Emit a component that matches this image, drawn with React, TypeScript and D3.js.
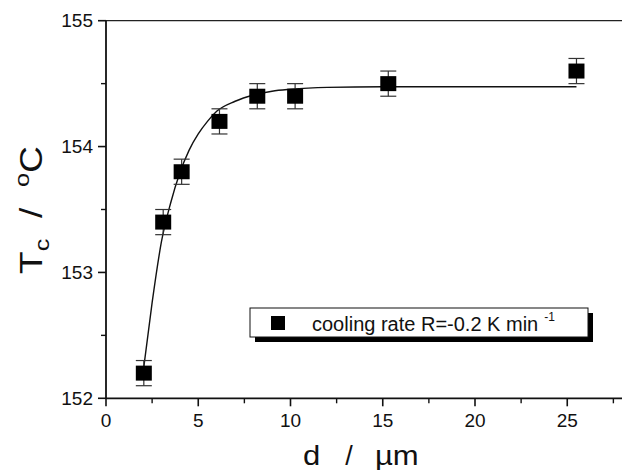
import React, { useEffect } from "react";
import * as d3 from "d3";

const dValues = [2.05, 3.1, 4.1, 6.15, 8.2, 10.25, 15.3, 25.5];
const tcValues = [152.2, 153.4, 153.8, 154.2, 154.4, 154.4, 154.5, 154.6];
const tcErrors = [0.1, 0.1, 0.1, 0.1, 0.1, 0.1, 0.1, 0.1];

const fitX = [2.05, 2.5, 3.0, 3.5, 4.0, 4.5, 5.0, 5.5, 6.0, 7.0, 8.0, 9.0, 10.0, 12.0, 15.0, 20.0, 25.5];
const fitY = [152.25, 152.76, 153.24, 153.55, 153.79, 153.97, 154.1, 154.2, 154.28, 154.36, 154.41, 154.44, 154.455, 154.47, 154.475, 154.475, 154.475];

const xTicks = [0, 5, 10, 15, 20, 25];
const xMinorTicks = [2.5, 7.5, 12.5, 17.5, 22.5, 27.5];
const yTicks = [152, 153, 154, 155];
const yMinorTicks = [152.5, 153.5, 154.5];

const legendLabel = "cooling rate R=-0.2 K min";
const legendSup = "-1";

const W = 622;
const H = 470;
const FONT = "'Liberation Sans', Arial, sans-serif";

export default function App() {
  useEffect(() => {
    document.body.style.margin = "0";
  }, []);

  const x = d3.scaleLinear().domain([0, 28]).range([106, 106 + 28 * 18.45]);
  const y = d3.scaleLinear().domain([152, 155]).range([398.3, 20.7]);

  const line = d3
    .line<number>()
    .x((_, i) => x(fitX[i]))
    .y((v) => y(v))
    .curve(d3.curveMonotoneX);

  const x0 = x(0);
  const y0 = y(152);
  const yTop = y(155);

  return (
    <svg width={W} height={H} style={{ display: "block", background: "#fff" }} fontFamily={FONT}>
      {/* frame */}
      <line x1={x0} x2={W} y1={yTop} y2={yTop} stroke="#222" strokeWidth={1.2} />
      <line x1={x0} x2={W} y1={y0} y2={y0} stroke="#111" strokeWidth={1.8} />
      <line x1={x0} x2={x0} y1={yTop} y2={y0} stroke="#111" strokeWidth={1.8} />

      {/* x ticks */}
      {xTicks.map((t) => (
        <g key={"xt" + t}>
          <line x1={x(t)} x2={x(t)} y1={y0} y2={y0 + 8} stroke="#111" strokeWidth={1.6} />
          <text x={x(t)} y={427} textAnchor="middle" fontSize={19} fill="#111">
            {t}
          </text>
        </g>
      ))}
      {xMinorTicks.map((t) => (
        <line key={"xm" + t} x1={x(t)} x2={x(t)} y1={y0} y2={y0 + 5} stroke="#111" strokeWidth={1.4} />
      ))}

      {/* y ticks */}
      {yTicks.map((t) => (
        <g key={"yt" + t}>
          <line x1={x0 - 8} x2={x0} y1={y(t)} y2={y(t)} stroke="#111" strokeWidth={1.6} />
          <text x={93} y={y(t) + 6.5} textAnchor="end" fontSize={19} fill="#111">
            {t}
          </text>
        </g>
      ))}
      {yMinorTicks.map((t) => (
        <line key={"ym" + t} x1={x0 - 5} x2={x0} y1={y(t)} y2={y(t)} stroke="#111" strokeWidth={1.4} />
      ))}

      {/* fit curve */}
      <path d={line(fitY) || ""} fill="none" stroke="#111" strokeWidth={1.4} />

      {/* error bars and markers */}
      {dValues.map((d, i) => {
        const cx = x(d);
        const cy = y(tcValues[i]);
        const yt = y(tcValues[i] + tcErrors[i]);
        const yb = y(tcValues[i] - tcErrors[i]);
        return (
          <g key={"p" + i}>
            <line x1={cx} x2={cx} y1={yt} y2={yb} stroke="#333" strokeWidth={1.2} />
            <line x1={cx - 8} x2={cx + 8} y1={yt} y2={yt} stroke="#333" strokeWidth={1.2} />
            <line x1={cx - 8} x2={cx + 8} y1={yb} y2={yb} stroke="#333" strokeWidth={1.2} />
            <rect x={cx - 8} y={cy - 7.5} width={16} height={15} fill="#000" />
          </g>
        );
      })}

      {/* legend */}
      <rect x={255} y={313} width={338} height={29} fill="#000" />
      <rect x={250} y={308} width={338} height={29} fill="#fff" stroke="#111" strokeWidth={1} />
      <rect x={271} y={316} width={14} height={14} fill="#000" />
      <text x={312} y={330.5} fontSize={20} fill="#111">
        {legendLabel}
        <tspan dx={6} dy={-10} fontSize={12}>
          {legendSup}
        </tspan>
      </text>

      {/* axis titles */}
      <text x={303} y={465} fontSize={27} fill="#111" transform="translate(303,0) scale(1.15,1) translate(-303,0)">
        d
      </text>
      <text x={349} y={465} textAnchor="middle" fontSize={27} fill="#111">
        /
      </text>
      <text x={375} y={465} fontSize={27} fill="#111" transform="translate(375,0) scale(1.15,1) translate(-375,0)">
        {"\u00b5m"}
      </text>

      <g transform="translate(42,210) rotate(-90) scale(1.2,1)">
        <text x={0} y={0} textAnchor="middle" fontSize={31} fill="#111" xmlSpace="preserve">
          T
          <tspan fontSize={21} dy={7}>c</tspan>
          <tspan dy={-7}>{"  /  "}</tspan>
          <tspan fontSize={21} dy={-13}>o</tspan>
          <tspan dy={13}>C</tspan>
        </text>
      </g>
    </svg>
  );
}
